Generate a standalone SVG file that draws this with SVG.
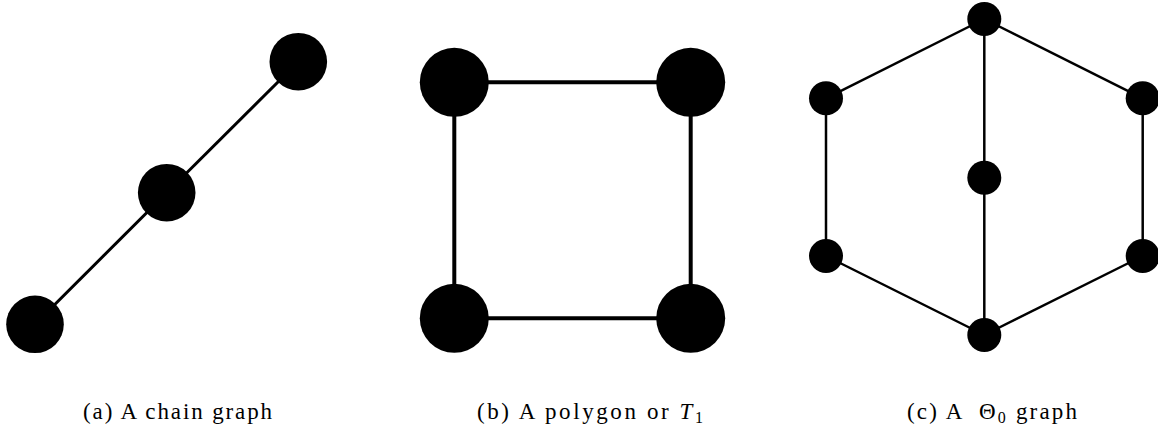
<svg xmlns="http://www.w3.org/2000/svg" width="1158" height="432" viewBox="0 0 1158 432">
<style>
.e{stroke:#000;fill:none;stroke-linecap:butt}
.n{fill:#000}
.cap{font-family:"Liberation Serif","DejaVu Serif",serif;font-size:23px;fill:#000}
</style>
<rect width="1158" height="432" fill="#fff"/>
<g id="connectors">
  <g id="chain-edges" class="e" stroke-width="3">
    <line x1="35" y1="324.3" x2="166.7" y2="192.7"/>
    <line x1="166.7" y1="192.7" x2="298.3" y2="61.7"/>
  </g>
  <g id="polygon-edges" class="e" stroke-width="4">
    <line x1="454.3" y1="82.3" x2="690.7" y2="82.3"/>
    <line x1="690.7" y1="82.3" x2="690.7" y2="318.3"/>
    <line x1="690.7" y1="318.3" x2="454.3" y2="318.3"/>
    <line x1="454.3" y1="318.3" x2="454.3" y2="82.3"/>
  </g>
  <g id="theta-edges" class="e" stroke-width="2.5">
    <line x1="984.3" y1="19" x2="826" y2="98.3"/>
    <line x1="984.3" y1="19" x2="1142.7" y2="98.3"/>
    <line x1="826" y1="98.3" x2="826" y2="256"/>
    <line x1="1142.7" y1="98.3" x2="1142.7" y2="256"/>
    <line x1="826" y1="256" x2="984.3" y2="335"/>
    <line x1="1142.7" y1="256" x2="984.3" y2="335"/>
    <line x1="984.3" y1="19" x2="984.3" y2="177.7"/>
    <line x1="984.3" y1="177.7" x2="984.3" y2="335"/>
  </g>
</g>
<g id="chain-n1"><circle class="n" cx="35" cy="324.3" r="28.8"/></g>
<g id="chain-n2"><circle class="n" cx="166.7" cy="192.7" r="28.8"/></g>
<g id="chain-n3"><circle class="n" cx="298.3" cy="61.7" r="28.8"/></g>
<g id="poly-tl"><circle class="n" cx="454.3" cy="82.3" r="34.5"/></g>
<g id="poly-tr"><circle class="n" cx="690.7" cy="82.3" r="34.5"/></g>
<g id="poly-bl"><circle class="n" cx="454.3" cy="318.3" r="34.5"/></g>
<g id="poly-br"><circle class="n" cx="690.7" cy="318.3" r="34.5"/></g>
<g id="theta-top"><circle class="n" cx="984.3" cy="19" r="17"/></g>
<g id="theta-ul"><circle class="n" cx="826" cy="98.3" r="17"/></g>
<g id="theta-ur"><circle class="n" cx="1142.7" cy="98.3" r="17"/></g>
<g id="theta-mid"><circle class="n" cx="984.3" cy="177.7" r="17"/></g>
<g id="theta-ll"><circle class="n" cx="826" cy="256" r="17"/></g>
<g id="theta-lr"><circle class="n" cx="1142.7" cy="256" r="17"/></g>
<g id="theta-bot"><circle class="n" cx="984.3" cy="335" r="17"/></g>
<g id="captions">
  <text id="cap-a" class="cap" x="83" y="419" textLength="189" lengthAdjust="spacing">(a) A chain graph</text>
  <text id="cap-b" class="cap" x="477" y="419" textLength="226" lengthAdjust="spacing">(b) A polygon or <tspan font-style="italic">T</tspan><tspan font-size="16" dy="4">1</tspan></text>
  <text id="cap-c" class="cap" x="907" y="419" textLength="170" lengthAdjust="spacing">(c) A  <tspan xml:space="preserve"> </tspan>Θ<tspan font-size="16" dy="4">0</tspan><tspan dy="-4"> graph</tspan></text>
</g>
</svg>
